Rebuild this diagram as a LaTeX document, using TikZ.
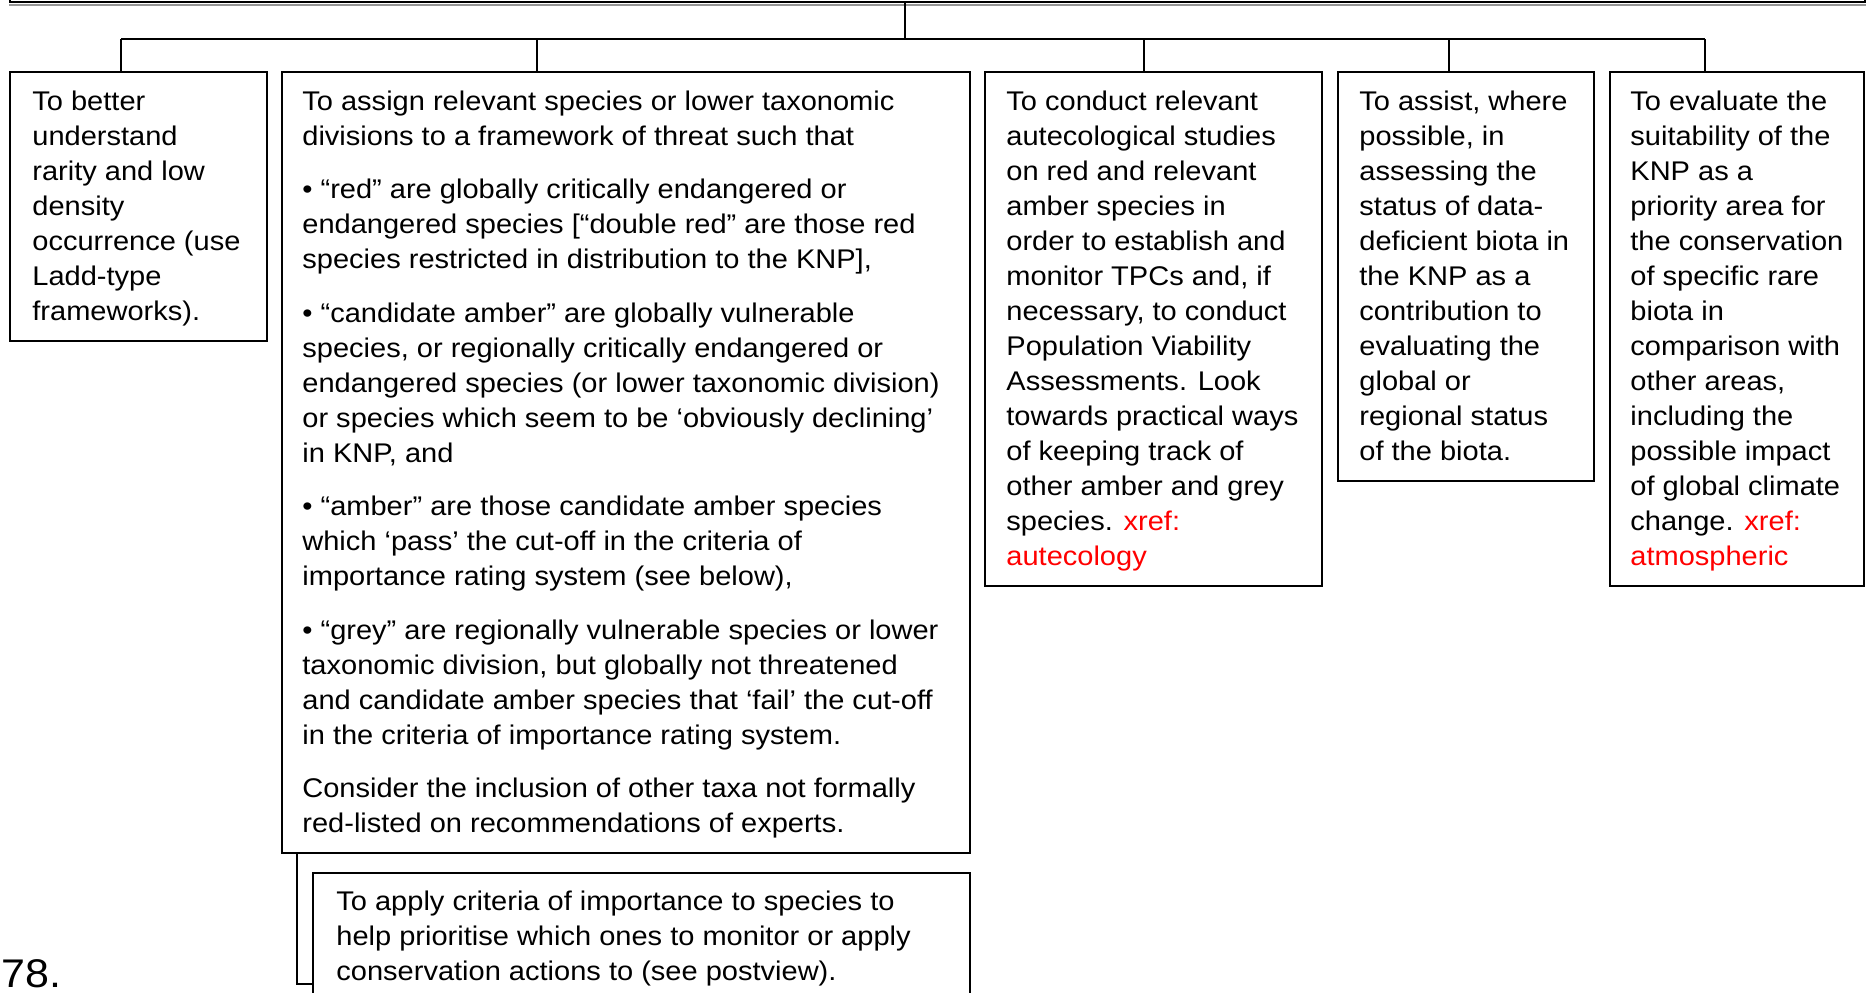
\documentclass[tikz,border=0pt]{standalone}
\usepackage{fontspec}
\setmainfont{Liberation Sans}[FakeStretch=1.075]
\definecolor{xref}{RGB}{255,0,0}
\definecolor{edgeshade}{RGB}{150,150,150}

\tikzset{
  box/.style={draw=black, line width=1pt, inner sep=0pt, anchor=north west},
  txt/.style={anchor=north west, align=left, inner sep=0pt,
              font=\fontsize{13.5}{17.5}\selectfont},
  link/.style={draw=black, line width=1pt},
}

\begin{document}
\begin{tikzpicture}[x=0.5pt, y=-0.5pt]
\useasboundingbox (0,0) rectangle (1867,992);

% parent box (only its lower edge lies on the page)
\node[box, anchor=south west, minimum width=927.5pt, minimum height=40pt] (top) at (9,3) {};
\draw[edgeshade, line width=0.75pt] ([yshift=-1.1pt]top.south west) -- ([yshift=-1.1pt]top.south east);

% objective boxes
\node[box, minimum width=128.5pt, minimum height=134.5pt] (b1) at (9,71) {};
\node[box, minimum width=344pt,   minimum height=390.5pt] (b2) at (281,71) {};
\node[box, minimum width=168.5pt, minimum height=257pt]   (b3) at (984,71) {};
\node[box, minimum width=128pt,   minimum height=204.5pt] (b4) at (1337,71) {};
\node[box, minimum width=127pt,   minimum height=257pt]   (b5) at (1609,71) {};
\node[box, minimum width=328.5pt, minimum height=75pt]    (sub) at (312,872) {};

% texts
\node[txt] (t1) at ([xshift=11.5pt,yshift=-7.25pt]b1.north west) {\strut To better\\
understand\\
rarity and low\\
density\\
occurrence (use\\
Ladd-type\\
frameworks).};

\node[txt] (t2) at ([xshift=10.5pt,yshift=-7.25pt]b2.north west) {\strut To assign relevant species or lower taxonomic\\
divisions to a framework of threat such that\\[9.25pt]
• “red” are globally critically endangered or\\
endangered species [“double red” are those red\\
species restricted in distribution to the KNP],\\[9.25pt]
• “candidate amber” are globally vulnerable\\
species, or regionally critically endangered or\\
endangered species (or lower taxonomic division)\\
or species which seem to be ‘obviously declining’\\
in KNP, and\\[9.25pt]
• “amber” are those candidate amber species\\
which ‘pass’ the cut-off in the criteria of\\
importance rating system (see below),\\[9.25pt]
• “grey” are regionally vulnerable species or lower\\
taxonomic division, but globally not threatened\\
and candidate amber species that ‘fail’ the cut-off\\
in the criteria of importance rating system.\\[9.25pt]
Consider the inclusion of other taxa not formally\\
red-listed on recommendations of experts.};

\node[txt] (t3) at ([xshift=11pt,yshift=-7.25pt]b3.north west) {\strut To conduct relevant\\
autecological studies\\
on red and relevant\\
amber species in\\
order to establish and\\
monitor TPCs and, if\\
necessary, to conduct\\
Population Viability\\
Assessments. Look\\
towards practical ways\\
of keeping track of\\
other amber and grey\\
species. \textcolor{xref}{xref:}\\
\textcolor{xref}{autecology}};

\node[txt] (t4) at ([xshift=11pt,yshift=-7.25pt]b4.north west) {\strut To assist, where\\
possible, in\\
assessing the\\
status of data-\\
deficient biota in\\
the KNP as a\\
contribution to\\
evaluating the\\
global or\\
regional status\\
of the biota.};

\node[txt] (t5) at ([xshift=10.5pt,yshift=-7.25pt]b5.north west) {\strut To evaluate the\\
suitability of the\\
KNP as a\\
priority area for\\
the conservation\\
of specific rare\\
biota in\\
comparison with\\
other areas,\\
including the\\
possible impact\\
of global climate\\
change. \textcolor{xref}{xref:}\\
\textcolor{xref}{atmospheric}};

\node[txt] (ts) at ([xshift=12pt,yshift=-6.75pt]sub.north west) {\strut To apply criteria of importance to species to\\
help prioritise which ones to monitor or apply\\
conservation actions to (see postview).};

% page number
\node[anchor=base west, inner sep=0pt, font=\fontsize{20}{24}\selectfont] (pg) at (1,987) {78.};

% connectors
\coordinate (hub) at (905,39);
\coordinate (j1) at (121,39);
\coordinate (j2) at (537,39);
\coordinate (j3) at (1144,39);
\coordinate (j4) at (1449,39);
\coordinate (j5) at (1705,39);
\draw[link] (hub |- top.south) -- (hub);
\draw[link] (j1) -- (j5);
\draw[link] (j1) -- (j1 |- b1.north);
\draw[link] (j2) -- (j2 |- b2.north);
\draw[link] (j3) -- (j3 |- b3.north);
\draw[link] (j4) -- (j4 |- b4.north);
\draw[link] (j5) -- (j5 |- b5.north);

\coordinate (elbow) at (297,984);
\draw[link] (elbow |- b2.south) -- (elbow) -- (elbow -| sub.west);
\end{tikzpicture}
\end{document}
